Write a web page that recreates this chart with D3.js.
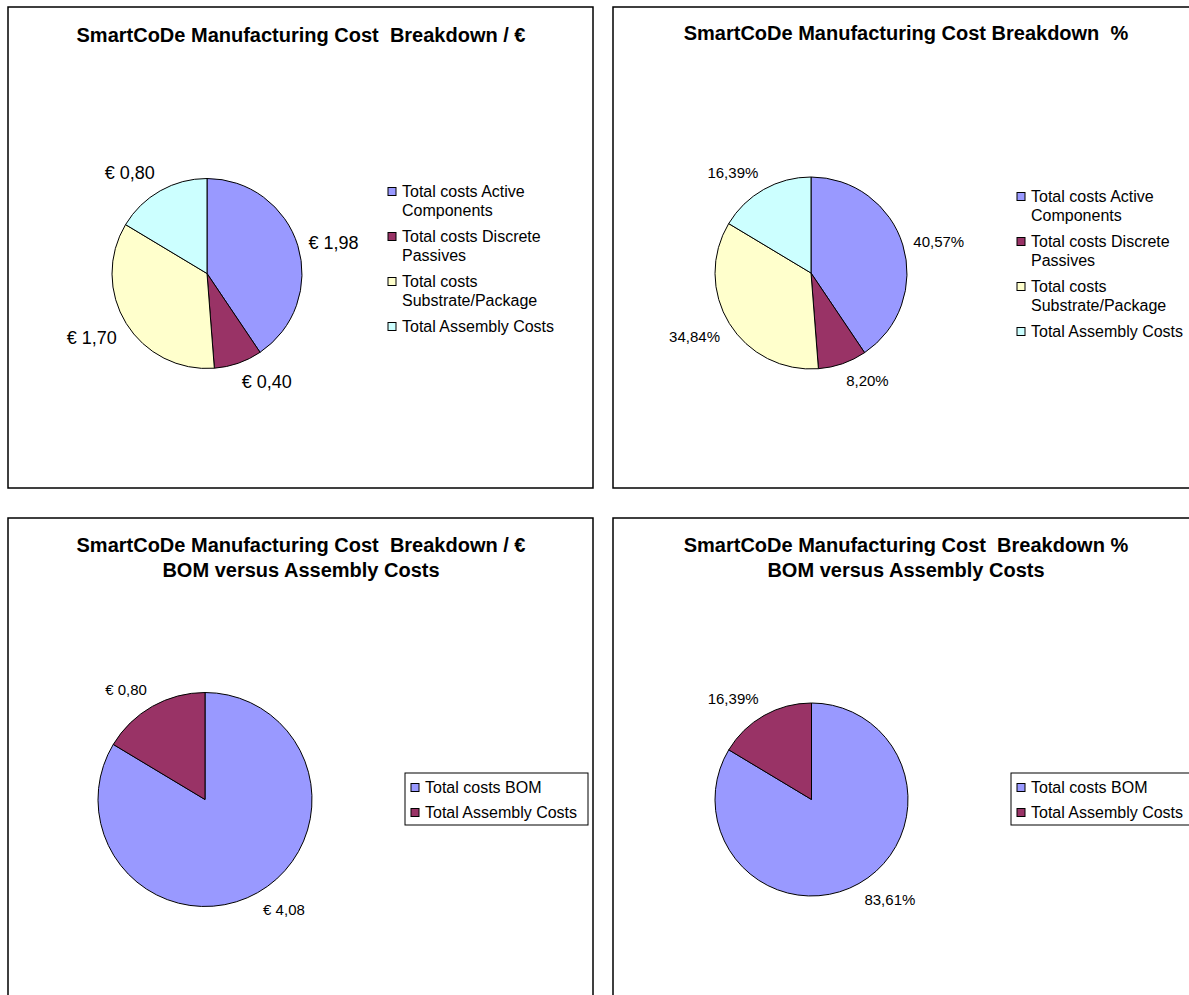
<!DOCTYPE html>
<html>
<head>
<meta charset="utf-8">
<script src="https://cdn.jsdelivr.net/npm/d3@7"></script>
<style>
  html, body { margin: 0; padding: 0; background: #fff; }
  svg { display: block; }
  text { font-family: "Liberation Sans", Arial, sans-serif; fill: #000; white-space: pre; }
</style>
</head>
<body>
<svg id="chart" width="1189" height="995"></svg>
<script>
// ---- data ----
const detailCategories = ["Total costs Active Components", "Total costs Discrete Passives", "Total costs Substrate/Package", "Total Assembly Costs"];
const detailValues = [1.98, 0.40, 1.70, 0.80];
const bomCategories = ["Total costs BOM", "Total Assembly Costs"];
const bomValues = [4.08, 0.80];
const detailColors = ["#9999FF", "#993366", "#FFFFCC", "#CCFFFF"];
const bomColors = ["#9999FF", "#993366"];
const titleEuro = ["SmartCoDe Manufacturing Cost  Breakdown / €"];
const titlePct = ["SmartCoDe Manufacturing Cost Breakdown  %"];
const titleEuroBom = ["SmartCoDe Manufacturing Cost  Breakdown / €", "BOM versus Assembly Costs"];
const titlePctBom = ["SmartCoDe Manufacturing Cost  Breakdown %", "BOM versus Assembly Costs"];

const num2 = d3.format(".2f");
const euroFmt = (v) => "€ " + num2(v).replace(".", ",");
const pctFmt = (v, total) => num2(v / total * 100).replace(".", ",") + "%";

const panels = [
  { x: 8, y: 7, w: 585, h: 481, title: titleEuro, titleY: 35, names: detailCategories, values: detailValues, colors: detailColors,
    fmt: "euro", labelSize: 18, cx: 199, cy: 266.5, r: 95,
    legend: { boxed: false, sqX: 380, textX: 394, y0: 184 } },
  { x: 613, y: 7, w: 585, h: 481, title: titlePct, titleY: 33, names: detailCategories, values: detailValues, colors: detailColors,
    fmt: "pct", labelSize: 15, cx: 198, cy: 266, r: 96,
    legend: { boxed: false, sqX: 404, textX: 418, y0: 189 } },
  { x: 8, y: 518, w: 585, h: 481, title: titleEuroBom, titleY: 34, names: bomCategories, values: bomValues, colors: bomColors,
    fmt: "euro", labelSize: 15, cx: 197, cy: 281.5, r: 107,
    legend: { boxed: true, boxX: 397, boxY: 255, boxW: 183, boxH: 52, sqX: 403, textX: 417, y0: 269 } },
  { x: 613, y: 518, w: 585, h: 481, title: titlePctBom, titleY: 34, names: bomCategories, values: bomValues, colors: bomColors,
    fmt: "pct", labelSize: 15, cx: 198.5, cy: 281.5, r: 96.5,
    legend: { boxed: true, boxX: 398, boxY: 255, boxW: 183, boxH: 52, sqX: 404, textX: 418, y0: 269 } }
];

const svg = d3.select("#chart");
svg.append("rect").attr("width", 1189).attr("height", 995).attr("fill", "#fff");

function wrapWords(textSel, words, maxW) {
  const lines = [];
  let cur = [];
  words.forEach(w => {
    const trial = cur.concat([w]).join(" ");
    textSel.text(trial);
    if (cur.length && textSel.node().getComputedTextLength() > maxW) {
      lines.push(cur.join(" "));
      cur = [w];
    } else {
      cur.push(w);
    }
  });
  if (cur.length) lines.push(cur.join(" "));
  textSel.text("");
  return lines;
}

panels.forEach(p => {
  const g = svg.append("g").attr("transform", `translate(${p.x},${p.y})`);
  g.append("rect").attr("x", 0).attr("y", 0).attr("width", p.w).attr("height", p.h)
    .attr("fill", "#fff").attr("stroke", "#000").attr("stroke-width", 1.5);

  // title
  p.title.forEach((t, i) => {
    g.append("text").attr("x", 293).attr("y", p.titleY + i * 25)
      .attr("text-anchor", "middle").attr("font-size", 20).attr("font-weight", "bold").text(t);
  });

  // pie
  const total = d3.sum(p.values);
  const pie = d3.pie().sort(null).value(d => d);
  const arcs = pie(p.values);
  const arc = d3.arc().innerRadius(0).outerRadius(p.r);
  const color = d3.scaleOrdinal().domain(p.names).range(p.colors);
  const pg = g.append("g").attr("transform", `translate(${p.cx},${p.cy})`);
  pg.selectAll("path").data(arcs).enter().append("path")
    .attr("d", arc).attr("fill", (d, i) => color(p.names[i]))
    .attr("stroke", "#000").attr("stroke-width", 1).attr("stroke-linejoin", "round");

  // labels at outside end
  arcs.forEach((d, i) => {
    const a = (d.startAngle + d.endAngle) / 2;
    const dx = Math.sin(a), dy = -Math.cos(a);
    const R = p.r + 11;
    const px = dx * R, py = dy * R;
    const txt = p.fmt === "euro" ? euroFmt(p.values[i]) : pctFmt(p.values[i], total);
    const t = pg.append("text").attr("font-size", p.labelSize).text(txt);
    const w = t.node().getComputedTextLength();
    const h = p.labelSize * 0.95;
    let cx, cy;
    if (Math.abs(dx) > 0.95) { cx = px + Math.sign(dx) * w / 2; cy = py; }
    else if (Math.abs(dy) > 0.95) { cx = px; cy = py + Math.sign(dy) * h / 2; }
    else { cx = px + Math.sign(dx) * w / 2; cy = py + Math.sign(dy) * h / 2; }
    t.attr("x", cx).attr("y", cy + p.labelSize * 0.35).attr("text-anchor", "middle");
  });

  // legend
  const L = p.legend;
  const lg = g.append("g");
  if (L.boxed) {
    lg.append("rect").attr("x", L.boxX).attr("y", L.boxY).attr("width", L.boxW).attr("height", L.boxH)
      .attr("fill", "#fff").attr("stroke", "#000").attr("stroke-width", 1);
  }
  const lineH = L.boxed ? 25 : 19.5;
  const gapH = L.boxed ? 0 : 6;
  let yc = L.y0;
  p.names.forEach((name) => {
    const t = lg.append("text").attr("font-size", 16);
    const lines = L.boxed ? [name] : wrapWords(t, name.split(" "), 160);
    lines.forEach((ln, j) => {
      t.append("tspan").attr("x", L.textX).attr("y", yc + j * 19.5 + 5.6).text(ln);
    });
    lg.append("rect").attr("x", L.sqX).attr("y", yc - 3.5).attr("width", 8).attr("height", 8)
      .attr("fill", color(name)).attr("stroke", "#000").attr("stroke-width", 1);
    yc += L.boxed ? lineH : lines.length * lineH + gapH;
  });
});
</script>
</body>
</html>
